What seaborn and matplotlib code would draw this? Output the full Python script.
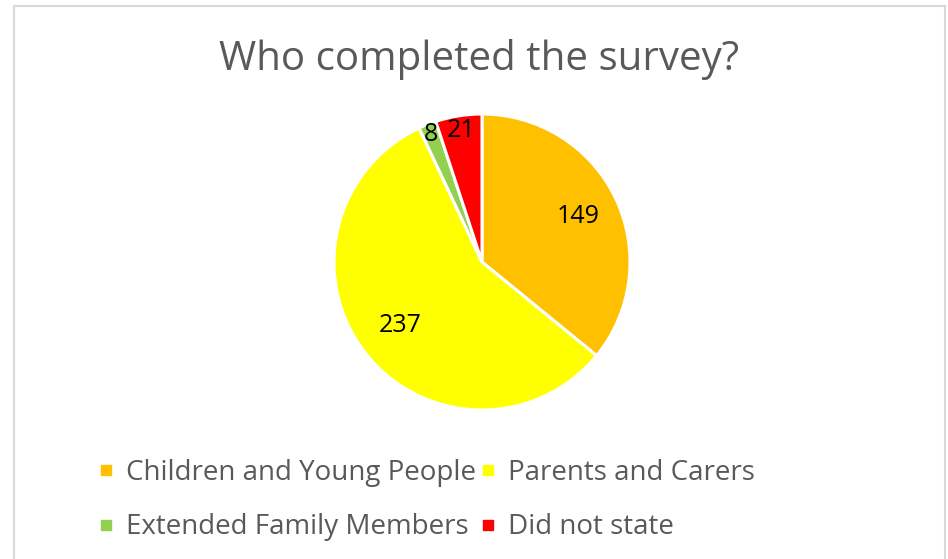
import matplotlib
matplotlib.use("Agg")
import matplotlib.pyplot as plt
from matplotlib.lines import Line2D
from matplotlib.patches import Rectangle
import numpy as np
import seaborn as sns

# Survey respondents by group
categories = ["Children and Young People", "Parents and Carers",
              "Extended Family Members", "Did not state"]
counts = [149, 237, 8, 21]
colors = ["#FFC000", "#FFFF00", "#92D050", "#FF0000"]
title = "Who completed the survey?"

sns.set_theme(style="white")
plt.rcParams["font.family"] = ["Open Sans", "DejaVu Sans"]

W, H = 948, 559
fig = plt.figure(figsize=(W / 100, H / 100), dpi=100)
fig.patch.set_facecolor("white")

# Light grey chart frame
fig.patches.append(Rectangle((14 / W, -0.05), (945 - 14) / W, 1.05 - 6 / H,
                             transform=fig.transFigure, fill=False,
                             edgecolor="#D9D9D9", lw=1.5, zorder=0))

# Pie axes placed as a square
cx, cy, r = 482, 262, 148
ax = fig.add_axes([(cx - r) / W, (H - cy - r) / H, 2 * r / W, 2 * r / H])
palette = sns.color_palette(colors)
wedges, _ = ax.pie(counts, colors=palette, startangle=90, counterclock=False,
                   wedgeprops=dict(edgecolor="white", linewidth=2.2))
ax.set_xlim(-1, 1)
ax.set_ylim(-1, 1)
ax.set_aspect("equal")
ax.axis("off")

# Value labels inside the wedges (small slices pushed toward the rim)
dists = [0.72, 0.70, 0.93, 0.90]
for w, v, d in zip(wedges, counts, dists):
    ang = np.deg2rad((w.theta1 + w.theta2) / 2)
    ax.text(d * np.cos(ang), d * np.sin(ang), str(v), ha="center", va="center",
            fontsize=18, color="black")

fig.text(479 / W, 1 - 59 / H, title, ha="center", va="center",
         fontsize=29, color="#595959")

# Legend entries read row by row (two per row)
handles = [Line2D([0], [0], marker="s", linestyle="none", markersize=7.5,
                  markerfacecolor=c, markeredgecolor=c) for c in colors]
order = [0, 2, 1, 3]
leg = fig.legend([handles[i] for i in order], [categories[i] for i in order],
                 ncol=2, loc="upper left",
                 bbox_to_anchor=(86 / W, 1 - 445 / H), frameon=False,
                 fontsize=20, labelcolor="#595959", handlelength=0.45,
                 handletextpad=0.5, columnspacing=0.2, labelspacing=0.95,
                 borderpad=0)

fig.savefig("out.png", dpi=100, facecolor="white")
